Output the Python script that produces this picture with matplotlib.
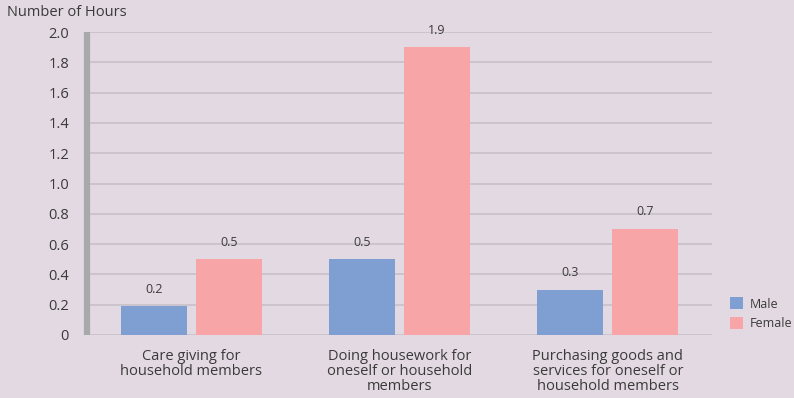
import matplotlib.pyplot as plt
import numpy as np

# hours per day by activity
categories = ['Care giving for\nhousehold members',
              'Doing housework for\noneself or household\nmembers',
              'Purchasing goods and\nservices for oneself or\nhousehold members']
male = [0.19, 0.5, 0.3]
female = [0.5, 1.9, 0.7]
yticks = [0, 0.2, 0.4, 0.6, 0.8, 1.0, 1.2, 1.4, 1.6, 1.8, 2.0]
ytick_labels = ['0', '0.2', '0.4', '0.6', '0.8', '1.0', '1.2', '1.4', '1.6', '1.8', '2.0']

bg = '#e3d9e2'
blue = '#7f9ed2'
pink = '#f7a5a7'
txt = '#3a3a3a'

plt.rcParams['font.family'] = ['Open Sans', 'DejaVu Sans']

fig = plt.figure(figsize=(7.94, 3.98), dpi=100, facecolor=bg)
ax = fig.add_axes([87 / 794, 63 / 398, 625 / 794, 303 / 398], facecolor=bg)

x = np.arange(len(categories))
w = 0.317
off = 0.18
b1 = ax.bar(x - off, male, w, color=blue, label='Male', zorder=3)
b2 = ax.bar(x + off, female, w, color=pink, label='Female', zorder=3)

for bars, vals in [(b1, male), (b2, female)]:
    for bar, v in zip(bars, vals):
        ax.text(bar.get_x() + bar.get_width() / 2, v + 0.07, '%.1f' % v,
                ha='center', va='bottom', fontsize=9, color=txt)

ax.set_xlim(-0.5, 2.5)
ax.set_ylim(0, 2.0)
ax.set_yticks(yticks)
ax.set_yticklabels(ytick_labels, fontsize=10.5, color=txt)
ax.set_xticks(x)
ax.set_xticklabels(categories, fontsize=10.5, color=txt, linespacing=1.0)
ax.tick_params(length=0, pad=13, axis='y')
ax.tick_params(length=0, pad=10, axis='x')

for yv in yticks:
    ax.axhline(yv, color='#c6bec6', lw=1.1, zorder=1)

for s in ['top', 'right', 'bottom']:
    ax.spines[s].set_visible(False)
ax.spines['left'].set_color('#a8a9ab')
ax.spines['left'].set_linewidth(4.5)
ax.spines['left'].set_capstyle('butt')
ax.spines['left'].set_zorder(4)

fig.text(7 / 794, 1 - 12 / 398, 'Number of Hours', fontsize=10.5, color=txt,
         ha='left', va='center')

ax.legend(loc='center left', bbox_to_anchor=(1.01, 0.07), frameon=False,
          fontsize=9, handlelength=1.1, handleheight=1.1, handletextpad=0.5,
          labelspacing=0.5, labelcolor=txt)

fig.savefig('out.png', dpi=100, facecolor=bg)
